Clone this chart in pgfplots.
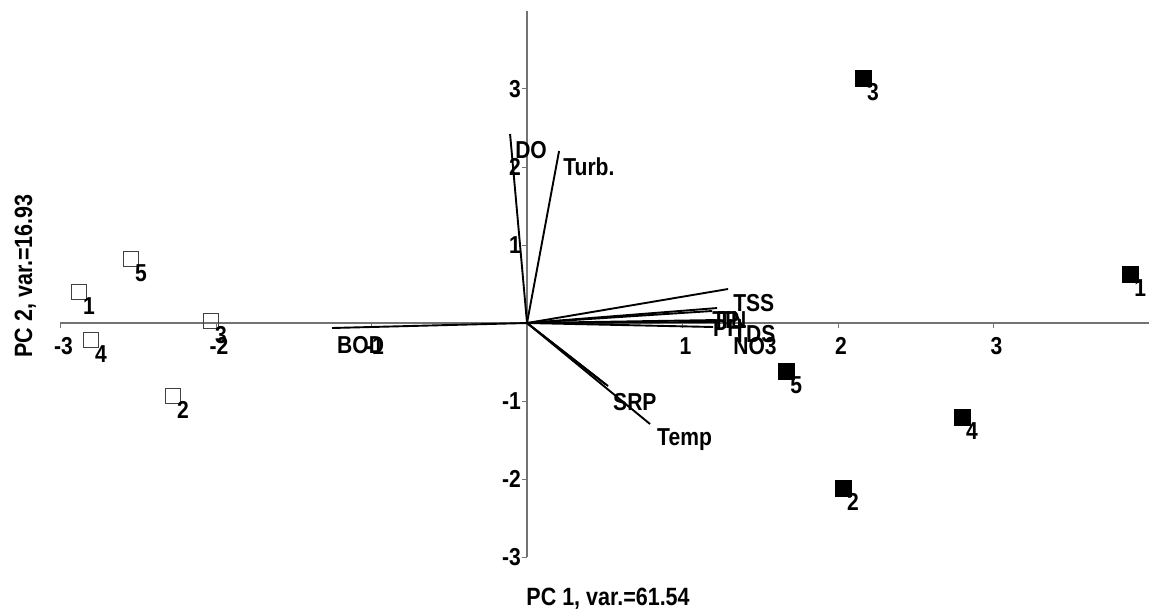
\documentclass[border=0pt]{standalone}
\usepackage{fontspec}
\setmainfont{Liberation Sans}[FakeStretch=0.86]
\usepackage{pgfplots}
\pgfplotsset{compat=1.18}
\begin{document}
\begin{tikzpicture}[font=\fontsize{24.5}{28}\selectfont\bfseries]
\begin{axis}[
  x=155.5pt, y=78pt,
  xmin=-3, xmax=4, ymin=-3, ymax=4,
  axis lines=middle,
  axis line style={-, draw=black!55, line width=1.3pt},
  tick align=outside,
  major tick length=5pt,
  tick style={draw=black!55, line width=1pt},
  xtick={-3,-2,-1,1,2,3}, ytick={-3,-2,-1,1,2,3},
  xticklabels={-3,-2,-1,1,2,3},
  yticklabels={-3,-2,-1,1,2,3},
  xticklabel style={inner sep=0pt, anchor=north, yshift=-9pt, xshift=3pt},
  yticklabel style={inner sep=0pt, anchor=east, xshift=-1pt},
  clip=false,
]
% biplot vectors
\addplot[black, line width=1.9pt] coordinates {(0,0) (1.293,0.436)};
\addplot[black, line width=1.9pt] coordinates {(0,0) (1.222,0.192)};
\addplot[black, line width=1.9pt] coordinates {(0,0) (1.190,0.154)};
\addplot[black, line width=1.9pt] coordinates {(0,0) (1.209,0.038)};
\addplot[black, line width=1.9pt] coordinates {(0,0) (1.209,0.013)};
\addplot[black, line width=1.9pt] coordinates {(0,0) (1.196,-0.051)};
\addplot[black, line width=1.9pt] coordinates {(0,0) (-1.254,-0.064)};
\addplot[black, line width=1.9pt] coordinates {(0,0) (-0.109,2.423)};
\addplot[black, line width=1.9pt] coordinates {(0,0) (0.206,2.205)};
\addplot[black, line width=1.9pt] coordinates {(0,0) (0.521,-0.808)};
\addplot[black, line width=1.9pt] coordinates {(0,0) (0.502,-0.782)};
\addplot[black, line width=1.9pt] coordinates {(0,0) (0.791,-1.295)};
% open squares
\addplot[only marks, mark=square, mark size=7.5pt,
  mark options={draw=black!75, line width=1pt},
  point meta=explicit symbolic, nodes near coords,
  every node near coord/.append style={anchor=center, xshift=10pt, yshift=-14pt, inner sep=0pt, text=black}]
  table[meta=lab] {
x y lab
-2.881 0.397 1
-2.277 -0.936 2
-2.032 0.026 3
-2.804 -0.218 4
-2.547 0.821 5
};
% filled squares
\addplot[only marks, mark=square*, mark size=8pt, black,
  point meta=explicit symbolic, nodes near coords,
  every node near coord/.append style={anchor=center, xshift=10pt, yshift=-14pt, inner sep=0pt, text=black}]
  table[meta=lab] {
x y lab
3.878 0.628 1
2.032 -2.115 2
2.161 3.141 3
2.797 -1.205 4
1.666 -0.615 5
};
% vector labels
\node[anchor=west, inner sep=0pt] at (axis cs:1.325,0.256) {TSS};
\node[anchor=west, inner sep=0pt] at (axis cs:1.190,0.038) {TP};
\node[anchor=west, inner sep=0pt] at (axis cs:1.228,0.038) {TN};
\node[anchor=west, inner sep=0pt] at (axis cs:1.196,-0.064) {PH};
\node[anchor=west, inner sep=0pt] at (axis cs:1.325,-0.141) {TDS};
\node[anchor=west, inner sep=0pt] at (axis cs:1.325,-0.295) {NO3};
\node[anchor=west, inner sep=0pt] at (axis cs:-0.077,2.218) {DO};
\node[anchor=west, inner sep=0pt] at (axis cs:0.232,2.0) {Turb.};
\node[anchor=west, inner sep=0pt] at (axis cs:-1.222,-0.282) {BOD};
\node[anchor=west, inner sep=0pt] at (axis cs:0.553,-1.013) {SRP};
\node[anchor=west, inner sep=0pt] at (axis cs:0.836,-1.5) {Temp};
% axis titles
\node[anchor=base, inner sep=0pt, font=\fontsize{25}{29}\selectfont\bfseries] at (axis cs:0.521,-3.615) {PC 1, var.=61.54};
\node[anchor=base, rotate=90, inner sep=0pt, font=\fontsize{25}{29}\selectfont\bfseries] at (axis cs:-3.183,0.603) {PC 2, var.=16.93};
\coordinate (BL) at (axis cs:-3.389,-3.705);
\coordinate (TR) at (axis cs:4.051,4.141);
\end{axis}
\pgfresetboundingbox
\path[use as bounding box] (BL) rectangle (TR);
\end{tikzpicture}
\end{document}
